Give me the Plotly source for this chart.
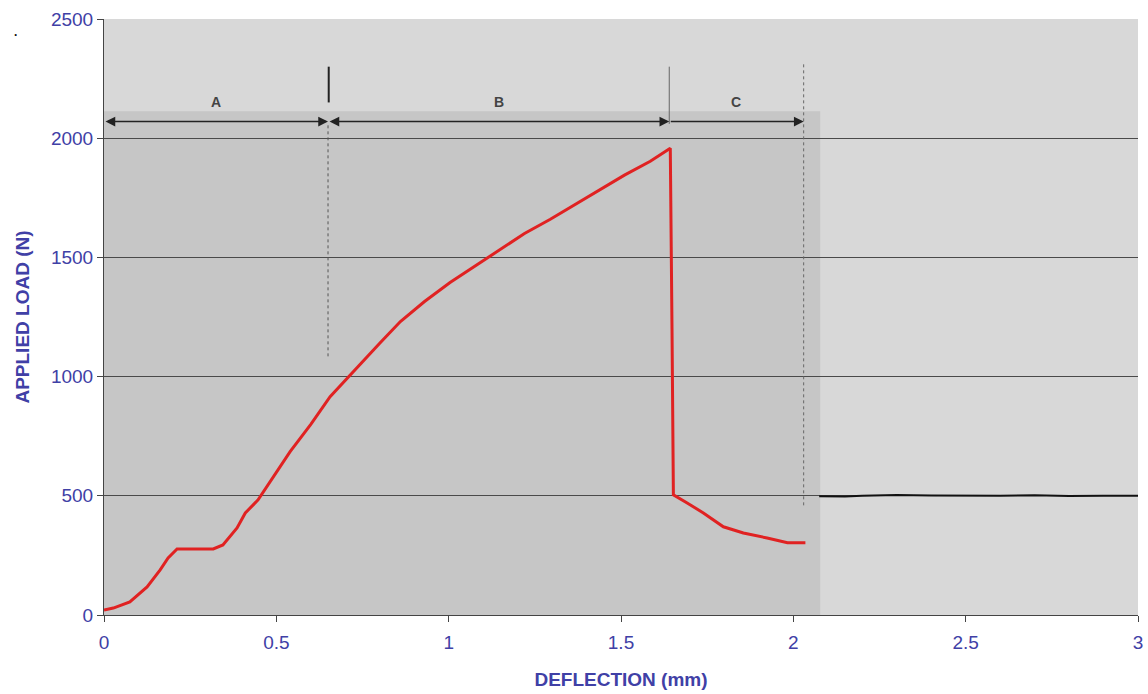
import plotly.graph_objects as go

# Load-deflection curve (red)
deflection = [0.0, 0.027, 0.075, 0.125, 0.163, 0.186, 0.212, 0.27, 0.317, 0.345, 0.386, 0.41,
              0.447, 0.54, 0.6, 0.656, 0.714, 0.743, 0.8, 0.86, 0.93, 1.004, 1.08, 1.15, 1.22,
              1.295, 1.37, 1.44, 1.51, 1.585, 1.643, 1.648, 1.652, 1.692, 1.739, 1.797, 1.855,
              1.924, 1.983, 2.035]
load = [21, 29, 55, 118, 189, 239, 277, 277, 277, 294, 365, 428,
        483, 685, 800, 916, 1008, 1050, 1140, 1231, 1315, 1395, 1468, 1534, 1600,
        1660, 1725, 1786, 1845, 1903, 1958, 1200, 504, 470, 428, 370, 344,
        323, 303, 303]

# Reference line at 500 N (black)
ref_x = [2.075, 2.15, 2.2, 2.3, 2.4, 2.5, 2.6, 2.7, 2.8, 2.9, 3.0]
ref_y = [498, 497, 500, 503, 501, 499, 500, 502, 499, 500, 500]

# Region boundaries and labels
region_labels = ["A", "B", "C"]
region_bounds = [0.0, 0.65, 1.64, 2.03]

x_ticks = [0, 0.5, 1, 1.5, 2, 2.5, 3]
x_tick_text = ["0", "0.5", "1", "1.5", "2", "2.5", "3"]
y_ticks = [0, 500, 1000, 1500, 2000, 2500]

blue = "#4040a6"

fig = go.Figure()
fig.add_trace(go.Scatter(x=ref_x, y=ref_y, mode="lines",
                         line=dict(color="#111111", width=2), showlegend=False))
fig.add_trace(go.Scatter(x=deflection, y=load, mode="lines",
                         line=dict(color="#e02222", width=3), showlegend=False))

shapes = [
    # darker speckled inner panel
    dict(type="rect", xref="x", yref="y", x0=0, x1=2.078, y0=0, y1=2113,
         fillcolor="#c6c6c6", line=dict(width=0), layer="below"),
    # boundary markers
    dict(type="line", xref="x", yref="y", x0=0.65, x1=0.65, y0=1085, y1=2060,
         line=dict(color="#555555", width=1, dash="dot")),
    dict(type="line", xref="x", yref="y", x0=0.652, x1=0.652, y0=2150, y1=2300,
         line=dict(color="#222222", width=2)),
    dict(type="line", xref="x", yref="y", x0=1.64, x1=1.64, y0=2060, y1=2300,
         line=dict(color="#666666", width=1)),
    dict(type="line", xref="x", yref="y", x0=2.03, x1=2.03, y0=460, y1=2320,
         line=dict(color="#666666", width=1, dash="dot")),
]

annotations = []
arrow_y = 2070
for i, lab in enumerate(region_labels):
    x0, x1 = region_bounds[i], region_bounds[i + 1]
    annotations.append(dict(x=x1, y=arrow_y, ax=x0, ay=arrow_y, xref="x", yref="y",
                            axref="x", ayref="y", text="", showarrow=True,
                            arrowhead=2, startarrowhead=2,
                            arrowside="end+start" if i < 2 else "end",
                            arrowsize=1.3, arrowwidth=1.5, arrowcolor="#222222"))
    annotations.append(dict(x=(x0 + x1) / 2, y=2152, xref="x", yref="y", text="<b>" + lab + "</b>",
                            showarrow=False, font=dict(family="Arial", size=14, color="#444444")))
annotations.append(dict(x=-0.089, y=0.993, xref="paper", yref="paper", text="<b>.</b>",
                        showarrow=False, font=dict(family="Arial", size=12, color="#111111")))

fig.update_layout(
    width=1148, height=694,
    margin=dict(l=104, r=10, t=19, b=79),
    paper_bgcolor="white",
    plot_bgcolor="#d8d8d8",
    shapes=shapes,
    annotations=annotations,
    xaxis=dict(range=[0, 3], tickvals=x_ticks, ticktext=x_tick_text, automargin=False,
               showgrid=False, zeroline=False, showline=True, linecolor="#444444",
               ticks="outside", ticklen=6, tickcolor="#444444", ticklabelstandoff=4,
               tickfont=dict(family="Arial", size=19, color=blue),
               title=dict(text="<b>DEFLECTION (mm)</b>", standoff=20,
                          font=dict(family="Arial", size=19, color=blue))),
    yaxis=dict(range=[0, 2500], tickvals=y_ticks, automargin=False,
               showgrid=True, gridcolor="#4a4a4a", gridwidth=1, zeroline=False,
               showline=True, linecolor="#444444",
               ticks="outside", ticklen=6, tickcolor="#444444",
               tickfont=dict(family="Arial", size=19, color=blue),
               title=dict(text="<b>APPLIED LOAD (N)</b>", standoff=16,
                          font=dict(family="Arial", size=19, color=blue))),
)

fig.write_html("out.html")
